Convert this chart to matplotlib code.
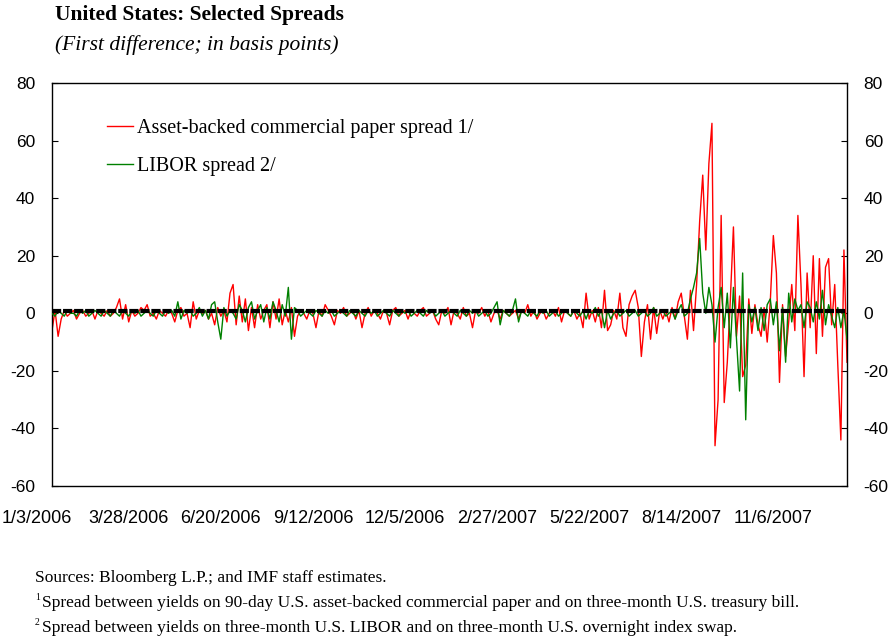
import numpy as np
import matplotlib
matplotlib.use("Agg")
import matplotlib.pyplot as plt
import matplotlib.transforms as mtransforms

# daily first differences (every other business day), basis points
abcp = [
    -6, 1, -8, -2, 1, -1, 0, 1, -2, 0,
    1, -1, 0, 1, -2, 1, 0, -1, 1, -1,
    0, 2, 5, -2, 3, -3, 1, -1, 0, 2,
    1, 3, -1, 0, -2, 1, 0, -1, 1, 0,
    -3, 1, 2, -1, 0, -5, 4, -2, 1, 0,
    1, -2, 0, -4, 2, -1, 1, -3, 7, 10,
    -4, 6, -3, 5, -6, 2, -5, 3, -2, 1,
    3, -5, 4, -2, 5, -4, 1, -3, 2, -8,
    -1, 1, 0, -2, 1, 0, -5, 1, -1, 3,
    1, -1, -4, 1, 0, 2, -1, 0, 1, -2,
    1, -5, 0, 2, -1, 1, 0, -2, 1, 0,
    -4, 1, 2, -1, 0, 1, -2, 1, 0, -1,
    1, 2, -1, 0, 1, -2, -4, 1, 0, 2,
    -4, 1, 0, -2, 2, -1, 0, -5, 1, 0,
    2, -1, 1, -3, 0, 1, -2, 1, 0, -1,
    0, 1, -2, 1, 0, 3, -1, 1, -2, 0,
    1, -2, 0, 1, -1, 2, -3, 1, 0, -1,
    1, -2, 0, -5, 7, -2, 1, -3, 2, -5,
    8, -6, -4, 1, -2, 7, -5, -8, 3, 6,
    8, 2, -15, -3, 3, -9, 2, -7, 1, -2,
    1, -3, 2, -2, 4, 7, -1, -9, 8, -6,
    10, 32, 48, 22, 52, 66, -46, -30, 34, -31,
    -17, 5, 30, -8, 6, -22, -18, 5, -7, 3,
    -4, -8, 2, -10, 4, 27, 14, -24, 3, -15,
    -3, 10, -6, 34, 10, -22, 14, -5, 20, -14,
    19, -8, 16, 19, -4, 10, -18, -44, 22, -17,
]

libor = [
    0, -1, 1, 0, -1, 1, 0, 0, -1, 1,
    0, 1, -1, 0, 1, 0, -1, 1, 0, -1,
    1, 0, -1, 1, 0, -1, 1, 0, 1, -1,
    0, 1, 0, -1, 1, 0, -1, 1, 0, 1,
    -1, 4, -2, 1, 0, 1, -1, 0, 2, -1,
    1, -2, 3, 4, -3, -9, 2, -1, 1, 0,
    -2, 3, 1, -3, 2, 4, -2, 1, 3, -3,
    2, -2, 4, 1, -3, 3, -1, 9, -9, 2,
    1, -1, 0, 1, 0, -1, 1, 0, -1, 1,
    0, 1, -1, 0, 1, 0, -1, 1, 0, -1,
    1, 0, -1, 1, 0, 1, -1, 0, 1, 0,
    -1, 1, 0, -1, 1, 0, 1, -1, 0, 1,
    0, -1, 1, 0, 1, -1, 0, 1, -1, 0,
    1, 0, -1, 1, 0, -1, 1, 0, 1, -1,
    0, 1, -1, 0, 2, 4, -4, 1, 0, -1,
    1, 5, -3, 1, 0, -1, 1, 0, -1, 1,
    0, 1, -1, 0, 1, -1, 0, 1, 0, -1,
    1, 0, -1, 1, -2, 1, 0, 2, -1, 1,
    -5, 1, -2, 0, 1, -1, 0, 1, -1, 0,
    1, -1, 0, 1, -1, 0, 2, -1, 0, 1,
    -1, 0, 1, -2, 1, 3, -1, 0, 5, 9,
    14, 26, 7, 0, 9, 3, -10, 2, 9, -5,
    7, -12, 9, -9, -27, 14, -37, 3, -3, 2,
    -6, 2, -6, 3, 5, -4, 4, -13, 2, -17,
    7, -3, 5, 1, 3, -5, 4, 2, -3, 4,
    -2, 8, -4, 3, -1, -5, 2, -5, 1, -9,
]

date_labels = ["1/3/2006", "3/28/2006", "6/20/2006", "9/12/2006", "12/5/2006",
               "2/27/2007", "5/22/2007", "8/14/2007", "11/6/2007"]
label_pos = [-5, 25, 55, 85, 115, 145, 175, 205, 235]

plt.rcParams["font.family"] = ["Liberation Serif", "DejaVu Serif"]
plt.rcParams["axes.unicode_minus"] = False
sans = ["Liberation Sans", "DejaVu Sans"]

fig = plt.figure(figsize=(8.93, 6.40), dpi=100)
ax = fig.add_axes([0.0582, 0.2406, 0.8903, 0.6297])

x = np.arange(len(abcp))
ax.plot(x, abcp, color="#ff0000", lw=1.0, zorder=2,
        label="Asset-backed commercial paper spread 1/")
ax.plot(x, libor, color="#008000", lw=1.0, zorder=3, label="LIBOR spread 2/")
ax.axhline(0.8, color="black", lw=3.0, linestyle=(0, (2.2, 0.45)), zorder=4)

ax.set_xlim(0, len(abcp) - 1)
ax.set_ylim(-60, 80)
ax.set_yticks(np.arange(-60, 81, 20))
ax.set_xticks([])
ax.tick_params(axis="y", direction="in", length=4, pad=12, labelsize=12.5,
               left=True, right=True, labelright=True)
for lab in ax.get_yticklabels(which="both") + ax.yaxis.get_ticklabels(minor=False):
    lab.set_family(sans)
for t in ax.yaxis.get_major_ticks():
    t.label1.set_family(sans)
    t.label2.set_family(sans)
for s in ax.spines.values():
    s.set_linewidth(1.0)

trans = mtransforms.blended_transform_factory(ax.transData, ax.transAxes)
for p, lab in zip(label_pos, date_labels):
    ax.text(p, -0.08, lab, transform=trans, ha="center", va="center",
            fontsize=13, family=sans, clip_on=False)

ax.legend(loc="upper left", bbox_to_anchor=(0.069, 0.912), frameon=False,
          fontsize=14.5, handlelength=1.3, handletextpad=0.2,
          labelspacing=0.95, borderpad=0, borderaxespad=0)

fig.text(0.062, 0.977, "United States: Selected Spreads", fontsize=15.5,
         fontweight="bold", va="center")
fig.text(0.062, 0.930, "(First difference; in basis points)", fontsize=15.5,
         style="italic", va="center")

fig.text(0.039, 0.097, "Sources: Bloomberg L.P.; and IMF staff estimates.",
         fontsize=12.5, va="center")
fig.text(0.039, 0.066, "1", fontsize=7, va="center")
fig.text(0.047, 0.058, "Spread between yields on 90-day U.S. asset-backed commercial "
         "paper and on three-month U.S. treasury bill.", fontsize=12.5, va="center")
fig.text(0.039, 0.027, "2", fontsize=7, va="center")
fig.text(0.047, 0.019, "Spread between yields on three-month U.S. LIBOR and on "
         "three-month U.S. overnight index swap.", fontsize=12.5, va="center")

fig.savefig("out.png", dpi=100)
